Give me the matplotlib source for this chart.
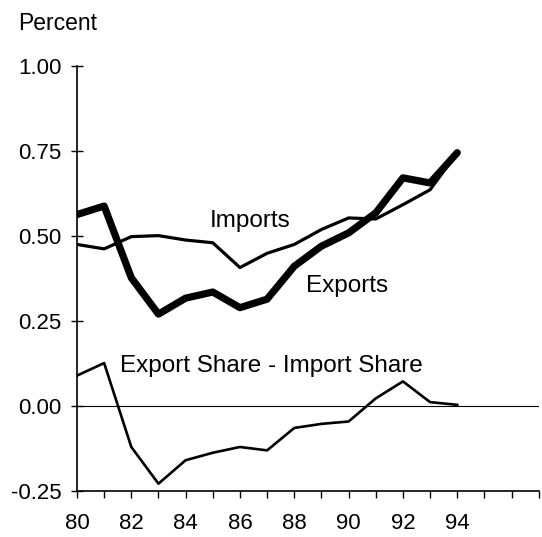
import matplotlib
matplotlib.use('Agg')
import matplotlib.pyplot as plt

plt.rcParams['font.family'] = ['Liberation Sans', 'DejaVu Sans']
plt.rcParams['axes.unicode_minus'] = False

years = [80, 81, 82, 83, 84, 85, 86, 87, 88, 89, 90, 91, 92, 93, 94]

exports = [0.563, 0.588, 0.377, 0.270, 0.317, 0.335, 0.289, 0.314,
           0.411, 0.470, 0.509, 0.568, 0.671, 0.656, 0.745]
imports = [0.475, 0.462, 0.498, 0.501, 0.488, 0.480, 0.407, 0.449,
           0.475, 0.519, 0.553, 0.550, 0.592, 0.636, 0.745]
share_diff = [0.089, 0.126, -0.121, -0.229, -0.160, -0.138, -0.121, -0.131,
              -0.065, -0.053, -0.046, 0.022, 0.072, 0.011, 0.003]

ytick_vals = [-0.25, 0.0, 0.25, 0.50, 0.75, 1.00]
ytick_labels = ['-0.25', '0.00', '0.25', '0.50', '0.75', '1.00']
xtick_vals = list(range(80, 98))
xtick_labels = [str(y) if (y % 2 == 0 and y <= 94) else '' for y in xtick_vals]

fig = plt.figure(figsize=(5.42, 5.37), dpi=100)
ax = fig.add_axes([0.142, 0.086, 0.852, 0.791])

# zero line first so the series sit on top of it
ax.axhline(0, color='black', lw=0.8, zorder=1)

ax.plot(years, imports, color='black', lw=2.3, zorder=3)
ax.plot(years, exports, color='black', lw=5.2, solid_capstyle='round',
        solid_joinstyle='round', zorder=4)
ax.plot(years, share_diff, color='black', lw=1.9, zorder=3)

ax.text(86.36, 0.543, 'Imports', fontsize=17.5, ha='center', va='center')
ax.text(89.93, 0.352, 'Exports', fontsize=17.5, ha='center', va='center')
ax.text(81.58, 0.117, 'Export Share - Import Share', fontsize=17.5,
        ha='left', va='center')

ax.set_xlim(80, 97)
ax.set_ylim(-0.25, 1.00)

ax.set_yticks(ytick_vals)
ax.set_yticklabels(ytick_labels, fontsize=16)
ax.set_xticks(xtick_vals)
ax.set_xticklabels(xtick_labels, fontsize=16)

ax.tick_params(axis='y', direction='inout', length=8, width=1, pad=7)
ax.tick_params(axis='x', direction='out', length=5, width=1, pad=11)

for side in ['top', 'right']:
    ax.spines[side].set_visible(False)
for side in ['left', 'bottom']:
    ax.spines[side].set_linewidth(1.2)

fig.text(18 / 542, 1 - 30 / 537, 'Percent', fontsize=16.5, ha='left',
         va='baseline')

plt.savefig('out.png', dpi=100)
plt.close()
